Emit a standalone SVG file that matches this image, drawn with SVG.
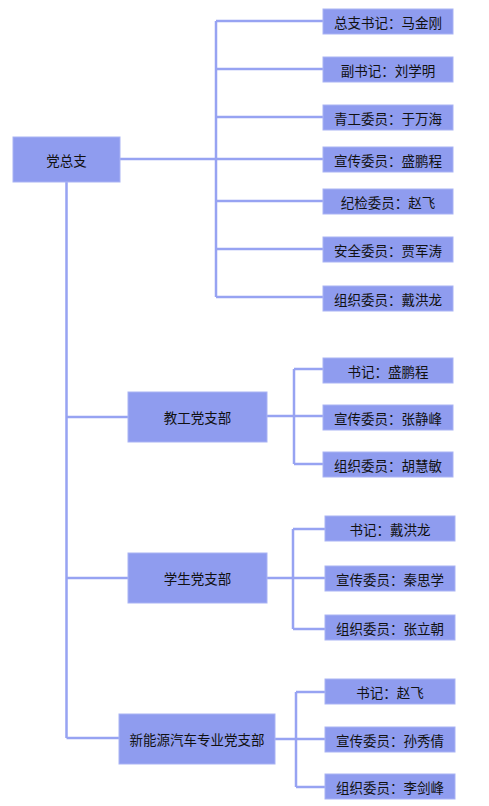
<svg xmlns="http://www.w3.org/2000/svg" width="489" height="806" viewBox="0 0 489 806">
<style>
.b{fill:#8F9CEF;stroke:#A9B3F4;stroke-width:1}
.t{font-family:"Noto Sans CJK SC","Noto Sans CJK JP",sans-serif;font-size:13.5px;fill:#111;text-anchor:middle;dominant-baseline:central}
.c{fill:none;stroke:#97A3F2;stroke-width:2.5}
</style>
<rect width="489" height="806" fill="#fff"/>
<g id="connectors">
<path class="c" d="M120 159H323M216 21V297M216 21H323M216 69H323M216 117H323M216 201H323M216 249H323M216 297H323"/>
<path class="c" d="M66.5 182V738M66.5 417H128M66.5 578H128M66.5 738H119"/>
<path class="c" d="M267 416H323M294 369V464M294 369H323M294 464H323"/>
<path class="c" d="M267 578H325M293 529V629M293 529H325M293 629H325"/>
<path class="c" d="M275 739H325M296 692V787M296 692H325M296 787H325"/>
</g>
<g id="n0"><rect class="b" x="13" y="137" width="107" height="45"/><text class="t" x="66.5" y="159.5">党总支</text></g>
<g id="n1"><rect class="b" x="323" y="9" width="130" height="25"/><text class="t" x="388" y="21.5">总支书记：马金刚</text></g>
<g id="n2"><rect class="b" x="323" y="57" width="130" height="25"/><text class="t" x="388" y="69.5">副书记：刘学明</text></g>
<g id="n3"><rect class="b" x="323" y="105" width="130" height="25"/><text class="t" x="388" y="117.5">青工委员：于万海</text></g>
<g id="n4"><rect class="b" x="323" y="147" width="130" height="25"/><text class="t" x="388" y="159.5">宣传委员：盛鹏程</text></g>
<g id="n5"><rect class="b" x="323" y="189" width="130" height="25"/><text class="t" x="388" y="201.5">纪检委员：赵飞</text></g>
<g id="n6"><rect class="b" x="323" y="237" width="130" height="25"/><text class="t" x="388" y="249.5">安全委员：贾军涛</text></g>
<g id="n7"><rect class="b" x="323" y="286" width="130" height="25"/><text class="t" x="388" y="298.5">组织委员：戴洪龙</text></g>
<g id="n8"><rect class="b" x="128" y="392" width="139" height="50"/><text class="t" x="197.5" y="417">教工党支部</text></g>
<g id="n9"><rect class="b" x="323" y="358" width="130" height="25"/><text class="t" x="388" y="370.5">书记：盛鹏程</text></g>
<g id="n10"><rect class="b" x="323" y="405" width="130" height="25"/><text class="t" x="388" y="417.5">宣传委员：张静峰</text></g>
<g id="n11"><rect class="b" x="323" y="452" width="130" height="25"/><text class="t" x="388" y="464.5">组织委员：胡慧敏</text></g>
<g id="n12"><rect class="b" x="128" y="553" width="139" height="50"/><text class="t" x="197.5" y="578">学生党支部</text></g>
<g id="n13"><rect class="b" x="325" y="516" width="130" height="25"/><text class="t" x="390" y="528.5">书记：戴洪龙</text></g>
<g id="n14"><rect class="b" x="325" y="566" width="130" height="25"/><text class="t" x="390" y="578.5">宣传委员：秦思学</text></g>
<g id="n15"><rect class="b" x="325" y="615" width="130" height="25"/><text class="t" x="390" y="627.5">组织委员：张立朝</text></g>
<g id="n16"><rect class="b" x="119" y="714" width="156" height="50"/><text class="t" x="197" y="739">新能源汽车专业党支部</text></g>
<g id="n17"><rect class="b" x="325" y="679" width="130" height="25"/><text class="t" x="390" y="691.5">书记：赵飞</text></g>
<g id="n18"><rect class="b" x="325" y="727" width="130" height="25"/><text class="t" x="390" y="739.5">宣传委员：孙秀倩</text></g>
<g id="n19"><rect class="b" x="325" y="774" width="130" height="25"/><text class="t" x="390" y="786.5">组织委员：李剑峰</text></g>
</svg>
